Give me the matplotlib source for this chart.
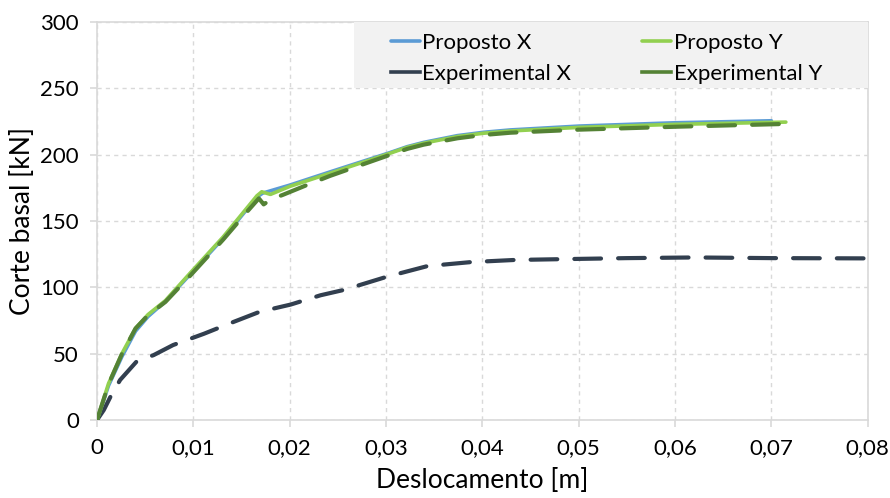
import matplotlib
matplotlib.use("Agg")
import matplotlib.pyplot as plt
from matplotlib.patches import Rectangle
from matplotlib.ticker import FuncFormatter

plt.rcParams['font.family'] = ['Lato', 'DejaVu Sans']

# Proposed model curves
prop_x_d = [0, 0.0012, 0.0026, 0.0040, 0.0053, 0.0071, 0.0097, 0.0131, 0.0166,
            0.0172, 0.0200, 0.0242, 0.0304, 0.0322, 0.0339, 0.0374, 0.0401,
            0.0429, 0.050, 0.060, 0.070]
prop_x_v = [0, 26, 48, 67, 78, 89.5, 110, 137, 168, 171, 177, 187, 201.5, 206,
            209.2, 214.3, 216.8, 218.6, 221.5, 224, 225.5]

prop_y_d = [0, 0.0012, 0.0026, 0.0040, 0.0053, 0.0071, 0.0097, 0.0131, 0.0166,
            0.0171, 0.0180, 0.0200, 0.0242, 0.0304, 0.0322, 0.0339, 0.0374,
            0.0401, 0.0429, 0.050, 0.060, 0.0715]
prop_y_v = [0, 27.6, 50.3, 69.1, 79.5, 90, 111, 138, 169, 172, 170, 176, 186,
            201, 205.5, 208.6, 213.6, 216.1, 217.8, 220.5, 222.8, 224.5]

# Experimental curves
exp_x_d = [0, 0.0007, 0.0014, 0.0024, 0.0041, 0.0059, 0.0079, 0.0111, 0.0142,
           0.0169, 0.0201, 0.0232, 0.0256, 0.0301, 0.0343, 0.0388, 0.0433,
           0.0481, 0.055, 0.062, 0.070, 0.080]
exp_x_v = [0, 7.5, 17.6, 30.2, 44, 49, 56.5, 65, 74, 81.6, 87, 94, 98, 108, 116,
           119, 120.6, 121.2, 122, 122.5, 122, 121.8]

exp_y_d = [0, 0.0012, 0.0026, 0.0040, 0.0053, 0.0071, 0.0097, 0.0131, 0.0157,
           0.0168, 0.0173, 0.0180, 0.0194, 0.0221, 0.0242, 0.0304, 0.0322,
           0.0339, 0.0374, 0.0401, 0.0429, 0.050, 0.060, 0.0708]
exp_y_v = [0, 27, 50, 69, 79, 89, 109, 136, 158, 167, 162.5, 166, 170, 178,
           184, 199.8, 204.3, 207.5, 212.3, 214.8, 216.5, 218.8, 221, 223]

x_ticks = [0, 0.01, 0.02, 0.03, 0.04, 0.05, 0.06, 0.07, 0.08]
y_ticks = [0, 50, 100, 150, 200, 250, 300]

fig = plt.figure(figsize=(8.9, 4.98), dpi=100)
ax = fig.add_axes([0.109, 0.1566, 0.866, 0.7994])

dash = (0, (6.4, 4.1))
ax.plot(exp_x_d, exp_x_v, color='#323f4f', lw=3.0, linestyle=dash,
        dash_capstyle='round', label='Experimental X', zorder=3)
ax.plot(prop_x_d, prop_x_v, color='#5b9bd5', lw=2.6, label='Proposto X',
        solid_capstyle='round', solid_joinstyle='round', zorder=4)
ax.plot(prop_y_d, prop_y_v, color='#92d050', lw=2.6, label='Proposto Y',
        solid_capstyle='round', solid_joinstyle='round', zorder=5)
ax.plot(exp_y_d, exp_y_v, color='#548235', lw=3.0, linestyle=dash,
        dash_capstyle='round', label='Experimental Y', zorder=6)

ax.set_xlim(0, 0.08)
ax.set_ylim(0, 300)
ax.set_xticks(x_ticks)
ax.set_yticks(y_ticks)
ax.xaxis.set_major_formatter(FuncFormatter(
    lambda v, p: '0' if abs(v) < 1e-12 else f'{v:.2f}'.replace('.', ',')))

ax.grid(True, color='#d9d9d9', linestyle=(0, (3, 3)), lw=1.0, zorder=0)
for s in ax.spines.values():
    s.set_color('#d9d9d9')
    s.set_linewidth(1.2)
ax.tick_params(axis='both', colors='#d9d9d9', labelcolor='black', labelsize=16,
               length=5, width=1.2, direction='out')
ax.tick_params(axis='x', pad=8)
ax.tick_params(axis='y', pad=8)

ax.set_xlabel('Deslocamento [m]', fontsize=19, labelpad=7)
ax.set_ylabel('Corte basal [kN]', fontsize=19, labelpad=4)

# legend panel
ax.add_patch(Rectangle((0.333, 0.834), 0.667, 0.166, transform=ax.transAxes,
                       facecolor='#f2f2f2', edgecolor='none', zorder=8))

h, l = ax.get_legend_handles_labels()
order = [1, 0, 2, 3]
leg = ax.legend([h[i] for i in order], [l[i] for i in order], ncol=2,
                loc='upper left', bbox_to_anchor=(0.381, 0.972),
                frameon=False, fontsize=16, borderaxespad=0, borderpad=0,
                handlelength=1.3, handletextpad=0.12, labelspacing=0.5,
                columnspacing=3.2)
leg.set_zorder(9)
for line in leg.get_lines():
    line.set_linestyle('-')
    line.set_linewidth(2.6)

fig.savefig('out.png', dpi=100)
